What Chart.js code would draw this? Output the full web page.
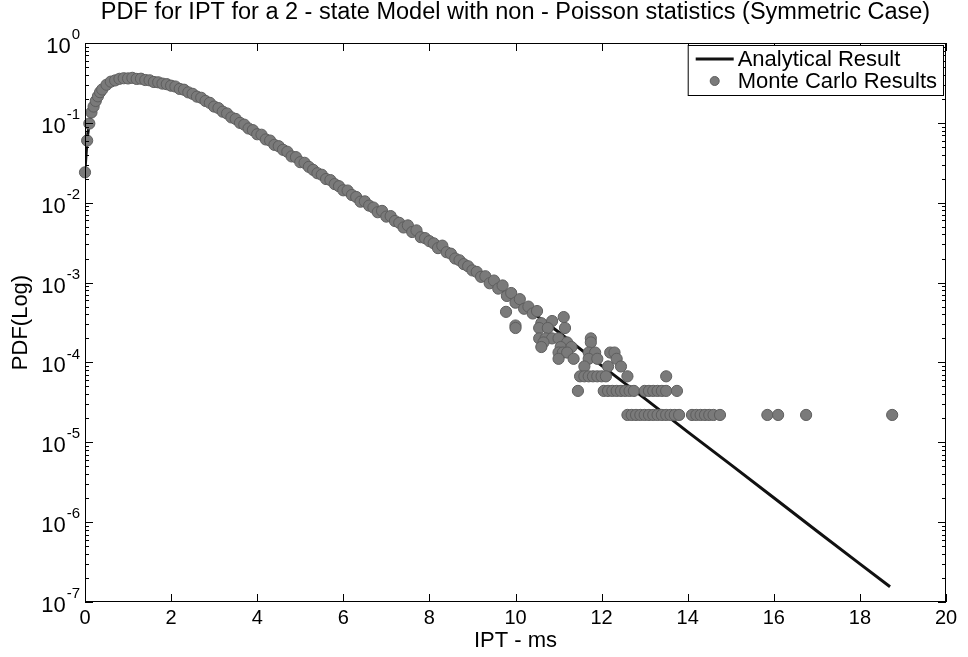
<!DOCTYPE html>
<html>
<head>
<meta charset="utf-8">
<title>PDF for IPT</title>
<script src="https://cdn.jsdelivr.net/npm/chart.js@4.4.1/dist/chart.umd.min.js"></script>
<style>
  html, body { margin: 0; padding: 0; background: #fff; }
  #wrap { width: 968px; height: 657px; }
</style>
</head>
<body>
<div id="wrap"><canvas id="myChart" width="968" height="657"></canvas></div>
<script>
const titleText = 'PDF for IPT for a 2 - state Model with non - Poisson statistics (Symmetric Case)';
const seriesNames = ['Analytical Result', 'Monte Carlo Results'];
const xTickValues = [0, 2, 4, 6, 8, 10, 12, 14, 16, 18, 20];
const yExponents = [0, -1, -2, -3, -4, -5, -6, -7];

// analytical curve
const lineX = [0, 0.05, 0.1, 0.2, 0.3, 0.4, 0.5, 0.75, 1, 1.25, 1.5, 1.75, 2, 2.5, 3, 3.5, 4, 4.5, 5, 5.5, 6, 6.5, 7, 7.5, 8, 8.5, 9, 9.5, 10, 11, 12, 13, 14, 15, 16, 17, 18, 18.7];
const lineY = [0.026, 0.063, 0.1, 0.158, 0.219, 0.263, 0.302, 0.347, 0.363, 0.355, 0.339, 0.316, 0.295, 0.229, 0.162, 0.11, 0.0741, 0.0501, 0.0331, 0.0219, 0.0148, 0.01, 0.00692, 0.00479, 0.00331, 0.00224, 0.00145, 0.000955, 0.000603, 0.00024, 0.0000912, 0.0000355, 0.0000135, 0.00000525, 0.00000202, 0.000000776, 0.0000003, 0.000000155];

// Monte Carlo points, dense part
const bandX = [0, 0.05, 0.1, 0.15, 0.2, 0.25, 0.3, 0.35, 0.4, 0.5, 0.6, 0.7, 0.8, 0.9, 1.0, 1.1, 1.2, 1.3, 1.4, 1.5, 1.6, 1.7, 1.8, 1.9, 2.0,
  2.1, 2.2, 2.3, 2.4, 2.5, 2.6, 2.7, 2.8, 2.9, 3.0, 3.1, 3.2, 3.3, 3.4, 3.5, 3.6, 3.7, 3.8, 3.9, 4.0,
  4.1, 4.2, 4.3, 4.4, 4.5, 4.6, 4.7, 4.8, 4.9, 5.0, 5.1, 5.2, 5.3, 5.4, 5.5, 5.6, 5.7, 5.8, 5.9, 6.0,
  6.1, 6.2, 6.3, 6.4, 6.5, 6.6, 6.7, 6.8, 6.9, 7.0, 7.1, 7.2, 7.3, 7.4, 7.5, 7.6, 7.7, 7.8, 7.9, 8.0,
  8.1, 8.2, 8.3, 8.4, 8.5, 8.6, 8.7, 8.8, 8.9, 9.0, 9.1, 9.2, 9.3, 9.4, 9.5, 9.6, 9.7, 9.8, 9.9, 10.0,
  10.1, 10.2, 10.3, 10.4, 10.5];
const bandY = [0.024, 0.06, 0.098, 0.135, 0.16, 0.188, 0.215, 0.242, 0.262, 0.3, 0.328, 0.34, 0.356, 0.362, 0.36, 0.366, 0.355, 0.357, 0.344, 0.341, 0.325, 0.322, 0.31, 0.305, 0.292,
  0.285, 0.266, 0.26, 0.241, 0.231, 0.213, 0.206, 0.188, 0.178, 0.16, 0.153, 0.138, 0.131, 0.117, 0.112, 0.1, 0.095, 0.085, 0.081, 0.072,
  0.071, 0.062, 0.06, 0.053, 0.051, 0.046, 0.0435, 0.038, 0.0372, 0.0322, 0.0316, 0.0281, 0.0258, 0.0234, 0.0224, 0.0198, 0.0192, 0.0171, 0.0161, 0.0143,
  0.0142, 0.0125, 0.0118, 0.0103, 0.0104, 0.0092, 0.0087, 0.0076, 0.0079, 0.0067, 0.0068, 0.0059, 0.0056, 0.0049, 0.0052, 0.0043, 0.0045, 0.0037, 0.0036, 0.0033,
  0.0031, 0.0027, 0.0029, 0.0024, 0.0023, 0.002, 0.0019, 0.0017, 0.0016, 0.00142, 0.00136, 0.00118, 0.0012, 0.00098, 0.00106, 0.00084, 0.00092, 0.00068, 0.00074, 0.00056,
  0.00062, 0.00047, 0.0005, 0.00041, 0.00044];

// Monte Carlo points, sparse tail
const tailX = [9.78, 10.0, 10.0, 10.6, 10.85, 11.12, 10.55, 10.75, 11.15,
  10.55, 10.7, 10.85, 11.0, 11.75, 10.65, 11.2, 11.75, 10.6, 11.05, 11.3,
  11.0, 11.1, 11.2, 11.7, 11.85, 12.2, 12.3, 11.0, 11.35, 11.7, 11.9, 12.35,
  11.6, 12.15, 12.45,
  11.5, 11.6, 11.7, 11.8, 11.9, 12.0, 12.1, 12.6, 13.5,
  11.45, 12.05, 12.15, 12.25, 12.35, 12.45, 12.55, 12.65, 12.75, 13.0, 13.1, 13.2, 13.3, 13.4, 13.5, 13.75,
  12.6, 12.7, 12.8, 12.9, 13.0, 13.1, 13.2, 13.3, 13.4, 13.5, 13.6, 13.7, 13.8,
  14.1, 14.2, 14.3, 14.4, 14.5, 14.6, 14.75, 15.85, 16.1, 16.75, 18.75];
const tailY = [0.00043, 0.00029, 0.00027, 0.00031, 0.00033, 0.00037, 0.00027, 0.00027, 0.00027,
  0.0002, 0.0002, 0.0002, 0.0002, 0.0002, 0.000178, 0.000178, 0.000178, 0.000156, 0.000156, 0.000156,
  0.000133, 0.000133, 0.000133, 0.000133, 0.000133, 0.000133, 0.000133, 0.000111, 0.000111, 0.000111, 0.000111, 0.000111,
  0.000089, 0.000089, 0.000089,
  0.000067, 0.000067, 0.000067, 0.000067, 0.000067, 0.000067, 0.000067, 0.000067, 0.000067,
  0.000044, 0.000044, 0.000044, 0.000044, 0.000044, 0.000044, 0.000044, 0.000044, 0.000044, 0.000044, 0.000044, 0.000044, 0.000044, 0.000044, 0.000044, 0.000044,
  0.000022, 0.000022, 0.000022, 0.000022, 0.000022, 0.000022, 0.000022, 0.000022, 0.000022, 0.000022, 0.000022, 0.000022, 0.000022,
  0.000022, 0.000022, 0.000022, 0.000022, 0.000022, 0.000022, 0.000022, 0.000022, 0.000022, 0.000022, 0.000022];

const FONT = '"Liberation Sans", Arial, sans-serif';

const linePoints = lineX.map((x, i) => ({ x: x, y: lineY[i] }));
const mcPoints = bandX.map((x, i) => ({ x: x, y: bandY[i] }))
  .concat(tailX.map((x, i) => ({ x: x, y: tailY[i] })));

// frame, inside ticks, 10^n labels, title and boxed legend like the matlab figure
const matlabLook = {
  id: 'matlabLook',
  afterDatasetsDraw(chart) {
    const ctx = chart.ctx;
    const a = chart.chartArea;
    const xs = chart.scales.x;
    const ys = chart.scales.y;
    ctx.save();
    ctx.strokeStyle = '#000';
    ctx.lineWidth = 1;
    ctx.strokeRect(a.left + 0.5, a.top + 0.5, a.right - a.left - 1, a.bottom - a.top - 1);

    ctx.beginPath();
    xTickValues.forEach(v => {
      const px = Math.round(xs.getPixelForValue(v)) + 0.5;
      ctx.moveTo(px, a.bottom); ctx.lineTo(px, a.bottom - 8);
      ctx.moveTo(px, a.top); ctx.lineTo(px, a.top + 8);
    });
    yExponents.forEach(e => {
      for (let m = 1; m < 10; m++) {
        const v = m * Math.pow(10, e);
        if (v > 1.0001) continue;
        const py = Math.round(ys.getPixelForValue(v)) + 0.5;
        const len = m === 1 ? 8 : 4;
        ctx.moveTo(a.left, py); ctx.lineTo(a.left + len, py);
        ctx.moveTo(a.right, py); ctx.lineTo(a.right - len, py);
      }
    });
    ctx.stroke();

    // y labels with superscript exponent
    ctx.fillStyle = '#000';
    ctx.textAlign = 'right';
    ctx.textBaseline = 'middle';
    yExponents.forEach(e => {
      const py = ys.getPixelForValue(Math.pow(10, e));
      const ex = String(e);
      ctx.font = '15px ' + FONT;
      const ew = ctx.measureText(ex).width;
      const right = a.left - 5;
      ctx.fillText(ex, right, py - 8);
      ctx.font = '22px ' + FONT;
      ctx.fillText('10', right - ew - 1, py + 4);
    });
    ctx.restore();
  },
  afterDraw(chart) {
    const ctx = chart.ctx;
    const a = chart.chartArea;
    ctx.save();
    ctx.fillStyle = '#000';
    ctx.font = '23.5px ' + FONT;
    ctx.textAlign = 'center';
    ctx.textBaseline = 'middle';
    ctx.fillText(titleText, (a.left + a.right) / 2, 13);

    // legend
    ctx.font = '22px ' + FONT;
    const ds = chart.data.datasets;
    let tw = 0;
    ds.forEach(d => { tw = Math.max(tw, ctx.measureText(d.label).width); });
    const boxW = 50 + tw + 6;
    const boxR = a.right - 3;
    const boxL = boxR - boxW;
    const boxT = a.top + 2;
    const rowH = 22;
    const boxH = rowH * ds.length + 6;
    ctx.fillStyle = '#fff';
    ctx.fillRect(boxL, boxT, boxW, boxH);
    ctx.strokeStyle = '#000';
    ctx.lineWidth = 1;
    ctx.strokeRect(boxL + 0.5, boxT + 0.5, boxW, boxH);
    ds.forEach((d, i) => {
      const cy = boxT + 14 + rowH * i;
      if (d.showLine) {
        ctx.strokeStyle = d.borderColor;
        ctx.lineWidth = d.borderWidth;
        ctx.beginPath();
        ctx.moveTo(boxL + 8, cy); ctx.lineTo(boxL + 46, cy);
        ctx.stroke();
      } else {
        ctx.fillStyle = d.backgroundColor;
        ctx.strokeStyle = d.borderColor;
        ctx.lineWidth = 1;
        ctx.beginPath();
        ctx.arc(boxL + 27, cy, 4.5, 0, Math.PI * 2);
        ctx.fill(); ctx.stroke();
      }
      ctx.fillStyle = '#000';
      ctx.textAlign = 'left';
      ctx.fillText(d.label, boxL + 50, cy + 1);
    });
    ctx.restore();
  }
};

const ctx = document.getElementById('myChart');
const myChart = new Chart(ctx, {
  type: 'scatter',
  data: {
    datasets: [{
      label: seriesNames[0],
      data: linePoints,
      showLine: true,
      borderColor: '#111111',
      borderWidth: 3,
      pointRadius: 0,
      tension: 0,
      order: 1
    }, {
      label: seriesNames[1],
      data: mcPoints,
      showLine: false,
      backgroundColor: '#7a7a7a',
      borderColor: '#5e5e5e',
      borderWidth: 1,
      pointRadius: 5.6,
      clip: false,
      order: 0
    }]
  },
  options: {
    responsive: false,
    animation: false,
    devicePixelRatio: 1,
    layout: { padding: { top: 43, right: 22, left: 0, bottom: 0 } },
    plugins: {
      legend: { display: false },
      title: { display: false },
      tooltip: { enabled: false }
    },
    scales: {
      x: {
        type: 'linear',
        min: 0,
        max: 20,
        grid: { display: false },
        border: { display: false },
        afterBuildTicks: s => { s.ticks = xTickValues.map(v => ({ value: v })); },
        afterFit: s => { s.height = 55; },
        ticks: { color: '#000', font: { family: FONT, size: 20 }, padding: -4, maxRotation: 0 },
        title: { display: true, text: 'IPT - ms', color: '#000', font: { family: FONT, size: 22 }, padding: { top: 0, bottom: 3 } }
      },
      y: {
        type: 'logarithmic',
        min: 1e-7,
        max: 1,
        grid: { display: false },
        border: { display: false },
        ticks: { display: false },
        afterFit: s => { s.width = 85; },
        title: { display: true, text: 'PDF(Log)', color: '#000', font: { family: FONT, size: 22 }, padding: { top: 8, bottom: 0 } }
      }
    }
  },
  plugins: [matlabLook]
});
</script>
</body>
</html>
